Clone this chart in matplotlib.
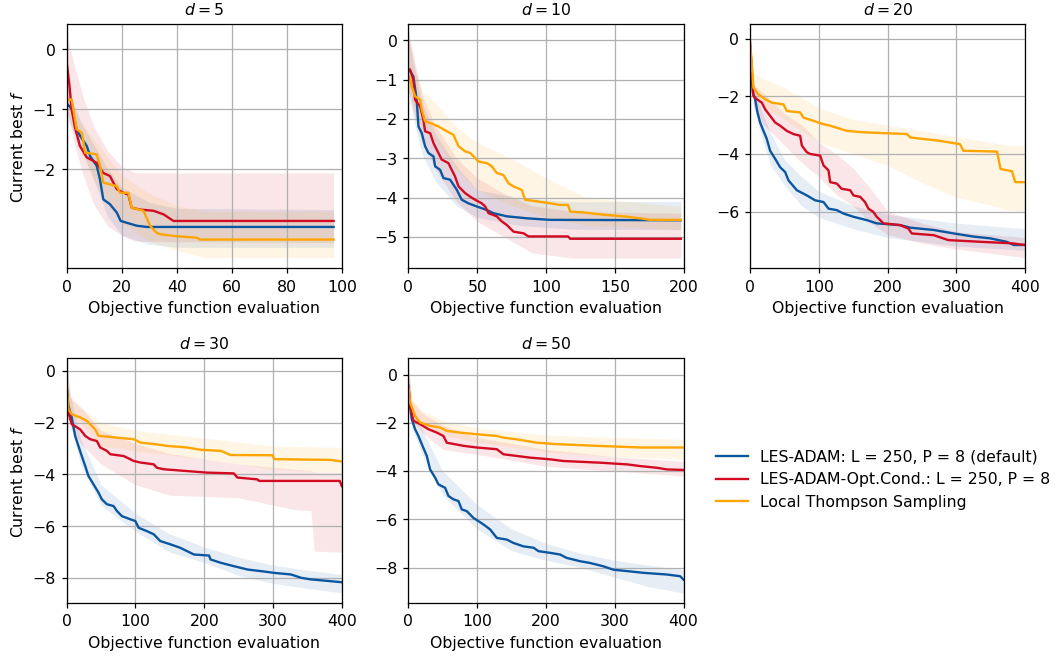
import numpy as np
import matplotlib
matplotlib.use("Agg")
import matplotlib.pyplot as plt

# colours for the three methods
c_les = '#0a56a0'
c_opt = '#d20a22'
c_lts = '#ffa500'

labels = ['LES-ADAM: L = 250, P = 8 (default)',
          'LES-ADAM-Opt.Cond.: L = 250, P = 8',
          'Local Thompson Sampling']

# ---------------- d = 5 ----------------
d5_les_x = [0, 2, 3.6, 5, 7.3, 8.5, 10.9, 12.1, 13.3, 15.7, 18.2, 19.6, 21.8, 25.5, 29.1, 97]
d5_les_y = [-0.9, -1.0, -1.33, -1.45, -1.61, -1.78, -1.94, -2.17, -2.5, -2.58, -2.72, -2.86, -2.89, -2.94, -2.96, -2.96]
d5_les_bx = [0, 5, 10, 15, 20, 30, 40, 97]
d5_les_lo = [-1.15, -1.6, -2.2, -2.8, -3.1, -3.25, -3.3, -3.3]
d5_les_hi = [-0.6, -1.2, -1.6, -2.0, -2.3, -2.55, -2.65, -2.67]

d5_opt_x = [0, 1, 1.8, 3, 4.8, 7.3, 10.9, 13.3, 15.7, 18.2, 20.6, 22.4, 23.6, 26.7, 31.5, 35.2, 38.8, 97]
d5_opt_y = [-0.22, -0.6, -1.0, -1.3, -1.61, -1.8, -1.89, -2.06, -2.11, -2.33, -2.39, -2.42, -2.64, -2.67, -2.69, -2.75, -2.86, -2.86]
d5_opt_bx = [0, 3, 6, 10, 15, 20, 25, 97]
d5_opt_lo = [-1.0, -1.6, -2.1, -2.6, -2.95, -3.1, -3.2, -3.22]
d5_opt_hi = [0.25, -0.3, -0.8, -1.3, -1.7, -1.95, -2.06, -2.06]

d5_lts_x = [0, 1.8, 3.6, 5.5, 6.7, 10.9, 12.1, 13.3, 18.2, 19.4, 22.4, 23.6, 27.9, 30.3, 32.7, 33.9, 38.8, 47.3, 48.5, 97]
d5_lts_y = [-0.85, -0.83, -1.33, -1.39, -1.72, -1.75, -1.94, -2.22, -2.28, -2.39, -2.39, -2.64, -2.69, -2.94, -3.06, -3.08, -3.11, -3.14, -3.17, -3.17]
d5_lts_bx = [0, 5, 10, 15, 20, 30, 40, 50, 97]
d5_lts_lo = [-1.0, -1.7, -2.2, -2.6, -2.9, -3.2, -3.35, -3.47, -3.47]
d5_lts_hi = [-0.7, -1.2, -1.5, -1.8, -2.1, -2.4, -2.6, -2.7, -2.7]

# ---------------- d = 10 ----------------
d10_les_x = [0.7, 3.6, 6, 7.3, 9.7, 12.1, 14.5, 18.2, 19.4, 23, 25.5, 30.3, 35.2, 38.8, 43.6, 49.7, 57, 61.8, 71.5, 86, 103, 198]
d10_les_y = [-0.75, -0.92, -1.51, -2.19, -2.36, -2.69, -2.86, -2.95, -3.2, -3.29, -3.5, -3.54, -3.8, -4.05, -4.14, -4.22, -4.31, -4.39, -4.47, -4.52, -4.56, -4.57]
d10_les_bx = [0, 5, 10, 20, 35, 50, 80, 120, 198]
d10_les_lo = [-1.3, -2.2, -2.9, -3.6, -4.2, -4.5, -4.7, -4.8, -4.81]
d10_les_hi = [0.1, -0.8, -1.6, -2.4, -3.2, -3.8, -4.0, -4.1, -4.09]

d10_opt_x = [1.2, 3.6, 4.8, 8.5, 10.9, 12.1, 15.8, 18.2, 21.8, 24.2, 29.1, 31.5, 33.9, 36.4, 41.2, 44.8, 48.5, 53.3,
             55.8, 58.2, 64.2, 67.9, 71.5, 76.4, 83.6, 87.3, 116, 117.6, 198]
d10_opt_y = [-0.75, -1.0, -1.51, -1.68, -2.02, -2.31, -2.36, -2.61, -2.86, -3.03, -3.12, -3.29, -3.46, -3.71, -3.88,
             -3.97, -4.05, -4.14, -4.22, -4.39, -4.47, -4.6, -4.69, -4.86, -4.9, -4.98, -4.98, -5.04, -5.04]
d10_opt_bx = [0, 5, 10, 20, 35, 50, 70, 90, 120, 198]
d10_opt_lo = [-1.3, -2.0, -2.6, -3.3, -4.1, -4.6, -5.0, -5.4, -5.53, -5.53]
d10_opt_hi = [0.2, -0.6, -1.4, -2.2, -3.0, -3.5, -3.9, -4.2, -4.35, -4.39]

d10_lts_x = [0.7, 2.4, 4.8, 8.5, 9.7, 12.1, 15.8, 21.8, 27.9, 32.7, 36.4, 41.2, 44.8, 48.5, 50.9, 57, 60.6, 64.2,
             69.1, 72.7, 76.4, 82.4, 84.8, 93.3, 103, 110, 116, 117.6, 127, 142, 156, 168, 176, 198]
d10_lts_y = [-0.92, -1.17, -1.42, -1.51, -1.76, -2.06, -2.1, -2.19, -2.31, -2.4, -2.69, -2.82, -2.86, -2.99, -3.08,
             -3.12, -3.2, -3.37, -3.42, -3.63, -3.71, -3.8, -4.05, -4.09, -4.14, -4.18, -4.18, -4.35, -4.37, -4.43,
             -4.47, -4.52, -4.56, -4.56]
d10_lts_bx = [0, 5, 10, 20, 35, 50, 75, 100, 130, 198]
d10_lts_lo = [-1.2, -1.8, -2.2, -2.6, -3.3, -3.8, -4.2, -4.5, -4.7, -4.81]
d10_lts_hi = [0.1, -0.7, -1.3, -1.6, -2.2, -2.6, -3.0, -3.5, -4.0, -4.22]

# ---------------- d = 20 ----------------
d20_les_x = [0, 3.9, 7.3, 10.7, 14.5, 19.4, 24.2, 29.1, 36.4, 43.6, 50.9, 55.8, 67.9, 82.4, 94.5, 106.7, 114, 126,
             135.8, 150, 170, 184, 218, 233, 267, 296, 325, 349, 373, 383, 400]
d20_les_y = [-0.26, -1.87, -2.1, -2.56, -2.91, -3.2, -3.48, -3.89, -4.17, -4.46, -4.63, -4.92, -5.26, -5.44, -5.61,
             -5.67, -5.9, -5.95, -6.07, -6.18, -6.3, -6.41, -6.47, -6.56, -6.64, -6.76, -6.87, -6.93, -7.05, -7.16, -7.16]
d20_les_bx = [0, 5, 15, 30, 50, 75, 100, 150, 200, 300, 400]
d20_les_lo = [-0.6, -2.3, -3.3, -4.4, -5.1, -5.8, -6.2, -6.6, -6.9, -7.2, -7.35]
d20_les_hi = [0.1, -1.5, -2.4, -3.3, -4.2, -4.8, -5.3, -5.8, -6.1, -6.4, -6.6]

d20_opt_x = [0, 4.8, 9.7, 17, 21.8, 29.1, 36.4, 43.6, 53.3, 63, 72.7, 75.2, 82.4, 87.3, 101.8, 106.7, 113.9, 116.4,
             126, 133, 145.5, 150.3, 160, 167, 172, 179, 184, 194, 218, 230, 235, 267, 288, 335, 380, 400]
d20_opt_y = [-0.2, -1.99, -2.1, -2.22, -2.45, -2.68, -2.91, -3.02, -3.2, -3.31, -3.37, -3.71, -3.94, -4.0, -4.06,
             -4.4, -4.57, -4.98, -5.03, -5.21, -5.26, -5.44, -5.49, -5.67, -5.9, -6.01, -6.18, -6.41, -6.47, -6.59,
             -6.76, -6.82, -6.99, -7.05, -7.1, -7.16]
d20_opt_bx = [0, 5, 20, 50, 75, 100, 125, 150, 175, 200, 250, 300, 400]
d20_opt_lo = [-0.5, -2.4, -3.0, -3.7, -4.3, -4.8, -5.4, -5.8, -6.4, -6.8, -7.1, -7.3, -7.6]
d20_opt_hi = [0.1, -1.6, -1.9, -2.6, -3.0, -3.6, -4.0, -4.5, -5.2, -6.0, -6.4, -6.7, -6.9]

d20_lts_x = [0, 4.8, 12, 21.8, 31.5, 48.5, 53.3, 72.7, 77.6, 92, 106.7, 116.4, 140.6, 165, 228, 233, 274, 305, 310,
             359, 364, 380.6, 385.5, 400]
d20_lts_y = [-0.1, -1.7, -1.93, -2.1, -2.22, -2.28, -2.51, -2.56, -2.74, -2.85, -2.97, -3.02, -3.2, -3.25, -3.31,
             -3.43, -3.54, -3.66, -3.89, -3.92, -4.52, -4.6, -4.98, -4.98]
d20_lts_bx = [0, 5, 20, 50, 100, 150, 200, 250, 300, 350, 375, 400]
d20_lts_lo = [-0.6, -2.0, -2.4, -2.8, -3.6, -4.0, -4.4, -5.0, -5.5, -5.78, -5.95, -6.0]
d20_lts_hi = [0.1, -1.2, -1.4, -1.7, -2.4, -2.8, -3.0, -3.2, -3.4, -3.6, -3.7, -3.7]

# ---------------- d = 30 ----------------
d30_les_x = [0, 2.4, 7.3, 12.2, 17, 21.9, 26.8, 31.6, 38.9, 46.2, 51.1, 58.4, 68.1, 73, 80.3, 92.5, 99.8, 104.6,
             116.8, 126.5, 136, 151, 165, 175, 185, 207, 209, 224, 243, 263, 282, 302, 326, 341, 355, 384, 400]
d30_les_y = [-0.6, -1.35, -1.8, -2.51, -2.9, -3.29, -3.67, -4.06, -4.38, -4.7, -4.96, -5.15, -5.22, -5.41, -5.61,
             -5.73, -5.8, -6.06, -6.19, -6.31, -6.57, -6.7, -6.83, -6.96, -7.09, -7.13, -7.28, -7.41, -7.54, -7.67,
             -7.73, -7.8, -7.86, -7.99, -8.05, -8.12, -8.16]
d30_les_bx = [0, 5, 20, 50, 100, 150, 200, 250, 300, 350, 400]
d30_les_lo = [-1.0, -2.0, -3.6, -5.2, -6.2, -7.0, -7.4, -7.9, -8.2, -8.4, -8.57]
d30_les_hi = [0.3, -0.9, -2.6, -4.4, -5.5, -6.3, -6.8, -7.2, -7.5, -7.7, -7.86]

d30_opt_x = [0, 2.4, 7.3, 19.5, 26.8, 34, 43.8, 48.7, 58.4, 63.3, 82.7, 87.6, 97.3, 107, 126.5, 131, 141, 175, 204,
             243, 248, 277, 280, 397, 400]
d30_opt_y = [-0.7, -1.61, -2.06, -2.26, -2.51, -2.64, -2.71, -2.96, -3.09, -3.22, -3.29, -3.35, -3.48, -3.54, -3.61,
             -3.74, -3.8, -3.87, -3.93, -3.96, -4.12, -4.19, -4.25, -4.25, -4.45]
d30_opt_bx = [0, 5, 20, 50, 100, 150, 250, 330, 355, 360, 400]
d30_opt_lo = [-1.2, -2.2, -2.8, -3.6, -4.4, -4.8, -4.9, -5.35, -5.4, -6.96, -7.0]
d30_opt_hi = [0.3, -1.0, -1.4, -2.3, -2.8, -3.2, -3.6, -3.8, -3.85, -3.9, -3.93]

d30_lts_x = [0, 2.4, 7.3, 19.5, 29.2, 34, 41.4, 46.2, 73, 97.3, 107, 131, 146, 175, 195, 224, 238, 299, 302, 384, 400]
d30_lts_y = [-0.6, -1.48, -1.68, -1.8, -1.93, -2.06, -2.26, -2.51, -2.58, -2.64, -2.77, -2.84, -2.9, -2.96, -3.05,
             -3.09, -3.25, -3.26, -3.41, -3.44, -3.5]
d30_lts_bx = [0, 5, 20, 50, 100, 200, 300, 400]
d30_lts_lo = [-1.0, -1.8, -2.0, -2.9, -3.1, -3.4, -3.8, -3.93]
d30_lts_hi = [0.3, -1.1, -1.4, -2.0, -2.3, -2.6, -2.9, -2.96]

# ---------------- d = 50 ----------------
d50_les_x = [0, 2.4, 4.8, 9.7, 14.5, 19.4, 26.7, 31.5, 38.8, 43.6, 53.3, 58.2, 65.5, 72.7, 77.6, 84.8, 94.5, 109,
             118.8, 128.5, 143, 152.7, 167, 182, 189, 206, 220.6, 230, 250, 264, 283.6, 298, 322, 342, 376, 395, 400]
d50_les_y = [-0.46, -1.29, -1.84, -2.26, -2.54, -2.88, -3.37, -3.93, -4.27, -4.55, -4.69, -5.03, -5.17, -5.24,
             -5.59, -5.66, -5.94, -6.21, -6.42, -6.77, -6.84, -6.98, -7.12, -7.18, -7.32, -7.39, -7.46, -7.6, -7.74,
             -7.81, -7.95, -8.09, -8.16, -8.22, -8.29, -8.36, -8.5]
d50_les_bx = [0, 5, 20, 50, 100, 150, 200, 250, 300, 350, 400]
d50_les_lo = [-1.0, -2.2, -3.3, -5.0, -6.4, -7.3, -7.7, -8.0, -8.4, -8.8, -9.06]
d50_les_hi = [0.3, -1.3, -2.3, -4.0, -5.4, -6.4, -7.0, -7.4, -7.7, -7.9, -8.09]

d50_opt_x = [0, 2.4, 7.3, 17, 29.1, 41.2, 50.9, 55.8, 80, 99.4, 128.5, 138, 157.6, 177, 206, 225.5, 279, 318, 337,
             361, 376, 400]
d50_opt_y = [-0.5, -1.29, -1.91, -2.05, -2.26, -2.4, -2.54, -2.82, -2.95, -3.02, -3.09, -3.3, -3.37, -3.44, -3.51,
             -3.58, -3.65, -3.72, -3.79, -3.86, -3.93, -3.95]
d50_opt_bx = [0, 5, 20, 50, 100, 200, 300, 400]
d50_opt_lo = [-1.0, -1.9, -2.4, -3.1, -3.3, -3.8, -4.0, -4.2]
d50_opt_hi = [0.3, -1.1, -1.6, -2.1, -2.6, -3.1, -3.4, -3.6]

d50_lts_x = [0, 2.4, 9.7, 17, 31.5, 46, 55.8, 75, 99.4, 128.5, 138, 157.6, 186.7, 215.8, 274, 339, 400]
d50_lts_y = [-0.5, -1.15, -1.71, -1.98, -2.12, -2.19, -2.33, -2.4, -2.47, -2.54, -2.61, -2.68, -2.82, -2.88, -2.95,
             -3.02, -3.02]
d50_lts_bx = [0, 5, 20, 50, 100, 200, 300, 400]
d50_lts_lo = [-0.9, -1.7, -2.2, -2.5, -2.8, -3.2, -3.4, -3.5]
d50_lts_hi = [0.3, -1.0, -1.5, -1.9, -2.2, -2.5, -2.6, -2.68]

dims = [5, 10, 20, 30, 50]
xlims = [(0, 100), (0, 200), (0, 400), (0, 400), (0, 400)]
ylims = [(-3.65, 0.43), (-5.79, 0.42), (-7.97, 0.52), (-8.96, 0.48), (-9.47, 0.68)]

panels = [
    [(d5_les_x, d5_les_y, d5_les_bx, d5_les_lo, d5_les_hi),
     (d5_opt_x, d5_opt_y, d5_opt_bx, d5_opt_lo, d5_opt_hi),
     (d5_lts_x, d5_lts_y, d5_lts_bx, d5_lts_lo, d5_lts_hi)],
    [(d10_les_x, d10_les_y, d10_les_bx, d10_les_lo, d10_les_hi),
     (d10_opt_x, d10_opt_y, d10_opt_bx, d10_opt_lo, d10_opt_hi),
     (d10_lts_x, d10_lts_y, d10_lts_bx, d10_lts_lo, d10_lts_hi)],
    [(d20_les_x, d20_les_y, d20_les_bx, d20_les_lo, d20_les_hi),
     (d20_opt_x, d20_opt_y, d20_opt_bx, d20_opt_lo, d20_opt_hi),
     (d20_lts_x, d20_lts_y, d20_lts_bx, d20_lts_lo, d20_lts_hi)],
    [(d30_les_x, d30_les_y, d30_les_bx, d30_les_lo, d30_les_hi),
     (d30_opt_x, d30_opt_y, d30_opt_bx, d30_opt_lo, d30_opt_hi),
     (d30_lts_x, d30_lts_y, d30_lts_bx, d30_lts_lo, d30_lts_hi)],
    [(d50_les_x, d50_les_y, d50_les_bx, d50_les_lo, d50_les_hi),
     (d50_opt_x, d50_opt_y, d50_opt_bx, d50_opt_lo, d50_opt_hi),
     (d50_lts_x, d50_lts_y, d50_lts_bx, d50_lts_lo, d50_lts_hi)],
]
colors = [c_les, c_opt, c_lts]

# the reference looks like a 100 dpi figure scaled up ~1.13x, so render at 113 dpi
dpi = 113
fig, axs = plt.subplots(2, 3, figsize=(1057.3 / dpi, 657.3 / dpi), dpi=dpi)
fig.subplots_adjust(left=0.0631, right=0.9697, top=0.9635, bottom=0.0822, wspace=0.242, hspace=0.368)
axs = axs.flatten()

handles = []
for k, d in enumerate(dims):
    ax = axs[k]
    # bands first, lines on top
    for (x, y, bx, lo, hi), c in zip(panels[k], colors):
        ax.fill_between(bx, lo, hi, color=c, alpha=0.1, lw=0)
    for i, ((x, y, bx, lo, hi), c) in enumerate(zip(panels[k], colors)):
        ln, = ax.plot(x, y, color=c, lw=1.5, label=labels[i])
        if k == 0:
            handles.append(ln)
    ax.set_xlim(*xlims[k])
    ax.set_ylim(*ylims[k])
    ax.grid(True)
    ax.set_title('$d = %d$' % d, fontsize=10)
    ax.set_xlabel('Objective function evaluation')
    if k in (0, 3):
        ax.set_ylabel('Current best $f$')

axs[0].set_yticks([0, -1, -2])
axs[5].axis('off')

fig.legend(handles, labels, loc='center left', bbox_to_anchor=(0.664, 0.27), frameon=False)

fig.savefig('out.png', dpi=dpi)
